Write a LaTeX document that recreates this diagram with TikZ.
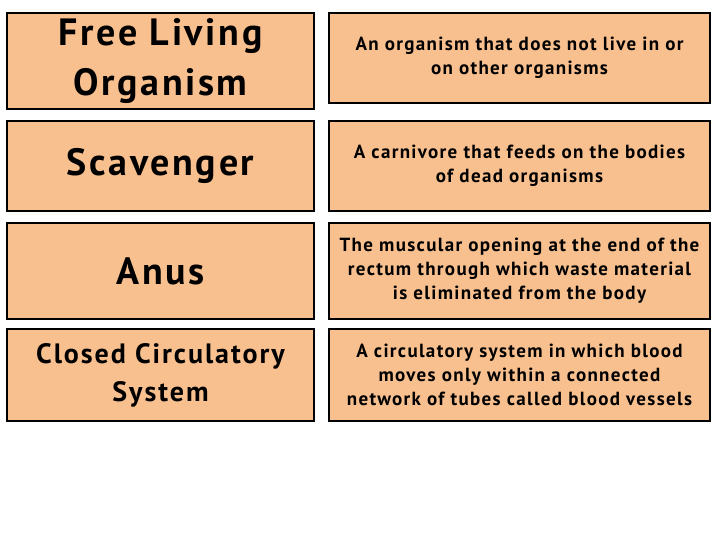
\documentclass[tikz,border=0pt]{standalone}
\usepackage{fontspec}
\setmainfont{PT Sans}[LetterSpace=7]
\definecolor{boxfill}{HTML}{F9C08F}
\begin{document}
\begin{tikzpicture}[x=1pt,y=-1pt,
  card/.style={draw=black,line width=2pt,fill=boxfill,inner sep=0pt,anchor=north west,align=center},
  term/.style={card,minimum width=307pt,font=\bfseries\fontsize{38}{50}\selectfont},
  defn/.style={card,minimum width=381pt,font=\bfseries\fontsize{19}{24}\selectfont}]
\useasboundingbox (0,0) rectangle (720,540);
\node[term,minimum height=96pt] (t1) at (6,12) {Free Living\\Organism};
\node[term,minimum height=90pt] (t2) at (6,120) {Scavenger};
\node[term,minimum height=96pt] (t3) at (6,222) {Anus};
\node[term,minimum height=92pt,font=\bfseries\fontsize{28}{38}\selectfont] (t4) at (6,328) {Closed Circulatory\\System};
\node[defn,minimum height=90pt] (d1) at (328,12) {An organism that does not live in or\\on other organisms};
\node[defn,minimum height=90pt] (d2) at (328,120) {A carnivore that feeds on the bodies\\of dead organisms};
\node[defn,minimum height=96pt] (d3) at (328,222) {The muscular opening at the end of the\\rectum through which waste material\\is eliminated from the body};
\node[defn,minimum height=92pt] (d4) at (328,328) {A circulatory system in which blood\\moves only within a connected\\network of tubes called blood vessels};
\end{tikzpicture}
\end{document}
